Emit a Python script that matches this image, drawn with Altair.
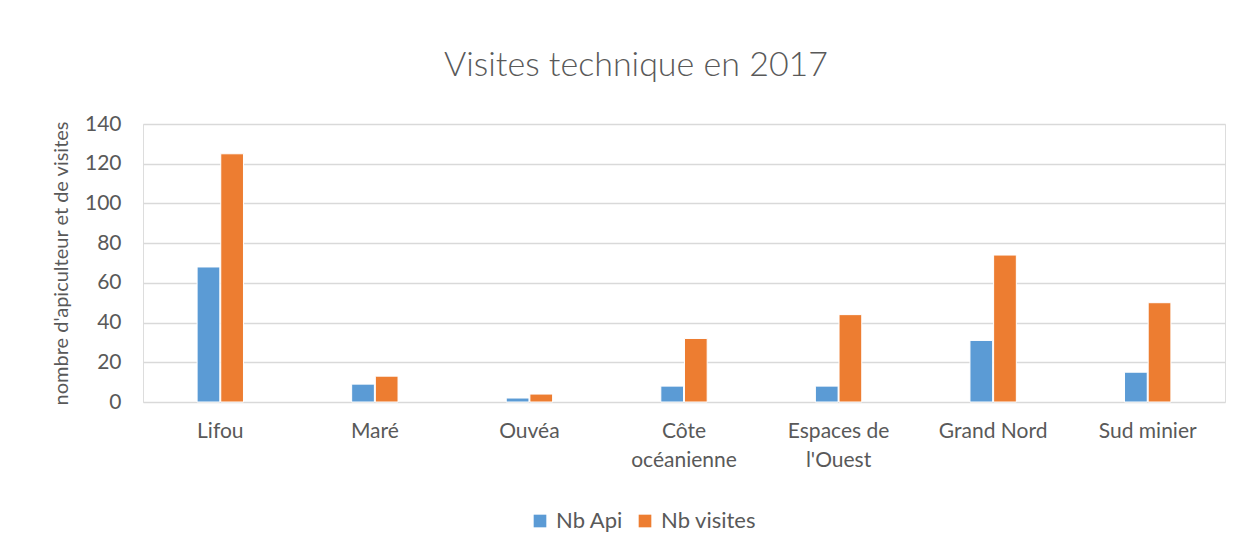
import altair as alt
import pandas as pd

categories = ["Lifou", "Maré", "Ouvéa", "Côte océanienne", "Espaces de l'Ouest", "Grand Nord", "Sud minier"]
nb_api = [68, 9, 2, 8, 8, 31, 15]
nb_visites = [125, 13, 4, 32, 44, 74, 50]
series = ["Nb Api", "Nb visites"]
colors = ["#5B9BD5", "#ED7D31"]

rows = []
for c, a, v in zip(categories, nb_api, nb_visites):
    rows.append({"cat": c, "serie": series[0], "val": a})
    rows.append({"cat": c, "serie": series[1], "val": v})
df = pd.DataFrame(rows)

label_expr = ("datum.label == 'Côte océanienne' ? ['Côte', 'océanienne'] : "
              "datum.label == \"Espaces de l'Ouest\" ? ['Espaces de', \"l'Ouest\"] : datum.label")

FONT = "Lato"
TXT = "#595959"

chart = alt.Chart(df).mark_bar(stroke="white", strokeWidth=1).encode(
    x=alt.X("cat:N", sort=categories, title=None,
            scale=alt.Scale(paddingInner=0.70, paddingOuter=0.35),
            axis=alt.Axis(labelAngle=0, labelExpr=label_expr, labelFontSize=21,
                          labelColor=TXT, labelFont=FONT, ticks=False, domain=False,
                          labelPadding=18, labelLineHeight=29, labelBaseline="top")),
    xOffset=alt.XOffset("serie:N", sort=series, scale=alt.Scale(paddingInner=0.04)),
    y=alt.Y("val:Q", title="nombre d'apiculteur et de visites",
            scale=alt.Scale(domain=[0, 140]),
            axis=alt.Axis(values=[0, 20, 40, 60, 80, 100, 120, 140], labelFontSize=21,
                          labelColor=TXT, labelFont=FONT, ticks=False, domain=False,
                          labelPadding=22, gridColor="#D9D9D9", gridWidth=1.3,
                          titleFont=FONT, titleFontSize=20, titleFontWeight="normal",
                          titleColor=TXT, titlePadding=13)),
    color=alt.Color("serie:N", sort=series, scale=alt.Scale(domain=series, range=colors),
                    legend=alt.Legend(title=None, orient="none", direction="horizontal",
                                      legendX=386, legendY=386, symbolType="square",
                                      symbolSize=160, symbolStrokeWidth=0,
                                      labelFontSize=22, labelColor=TXT, labelFont=FONT,
                                      columnPadding=10, labelOffset=5)),
).properties(
    width=1082, height=278,
    title=alt.Title("Visites technique en 2017", fontSize=34, font=FONT,
                    fontWeight=300, color=TXT, offset=30, anchor="middle", dx=-48),
    autosize=alt.AutoSizeParams(type="none"),
    padding={"left": 135, "top": 116, "right": 14, "bottom": 140},
).configure_view(stroke=None).configure(background="white")

chart.save("out.html", embed_options={"renderer": "svg", "actions": False})
